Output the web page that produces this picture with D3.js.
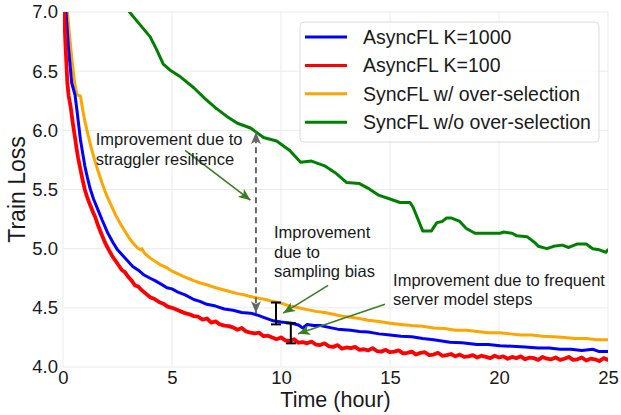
<!DOCTYPE html>
<meta charset="utf-8">
<style>
body { margin: 0; background: #fff; }
text { font-family: "Liberation Sans", Arial, sans-serif; fill: #1a1a1a; }
.grid line { stroke: #ebebeb; stroke-width: 1; }
.series { fill: none; stroke-linejoin: round; stroke-linecap: round; }
.note { font-size: 16.5px; }
</style>
<svg width="621" height="415"></svg>
<script src="https://d3js.org/d3.v7.min.js"></script>
<script>

// values: [hour, train loss]
var asyncK1000 = [[0.14,7.0],[0.25,6.7],[0.4,6.40],[0.55,6.30],[0.64,6.17],[0.8,5.92],[1.0,5.70],[1.12,5.60],[1.24,5.51],[1.4,5.42],[1.6,5.33],[1.8,5.24],[2.06,5.13],[2.3,5.05],[2.5,4.99],[2.7,4.95],[2.95,4.90],[3.2,4.85],[3.44,4.82],[3.7,4.78],[4.0,4.75],[4.22,4.73],[4.5,4.70],[4.77,4.67],[5.0,4.66],[5.3,4.63],[5.6,4.61],[6.0,4.57],[6.28,4.555],[6.6,4.53],[7.0,4.515],[7.4,4.49],[7.8,4.48],[8.2,4.46],[8.6,4.455],[8.9,4.44],[9.2,4.42],[9.65,4.39],[10.0,4.38],[10.5,4.37],[10.8,4.355],[11.0,4.33],[11.2,4.36],[11.5,4.35],[11.8,4.35],[12.2,4.335],[12.6,4.32],[13.2,4.31],[13.6,4.30],[14.0,4.295],[14.5,4.28],[15.0,4.27],[15.5,4.26],[16.0,4.255],[16.5,4.24],[17.0,4.23],[17.75,4.21],[18.3,4.205],[19.0,4.19],[19.5,4.19],[20.05,4.18],[20.6,4.175],[21.2,4.17],[21.8,4.16],[22.3,4.16],[22.8,4.15],[23.3,4.15],[23.8,4.14],[24.3,4.15],[24.6,4.13],[25.0,4.13]];

var asyncK100 = [[0.05,7.0],[0.12,6.70],[0.2,6.40],[0.26,6.29],[0.35,6.20],[0.45,6.06],[0.55,5.94],[0.62,5.85],[0.69,5.77],[0.8,5.67],[0.9,5.58],[1.0,5.50],[1.1,5.44],[1.2,5.39],[1.35,5.32],[1.47,5.27],[1.6,5.20],[1.75,5.13],[1.93,5.05],[2.1,4.99],[2.25,4.94],[2.4,4.90],[2.55,4.86],[2.7,4.82],[2.85,4.80],[3.0,4.76],[3.15,4.73],[3.3,4.69],[3.45,4.68],[3.6,4.65],[3.8,4.62],[4.0,4.59],[4.2,4.575],[4.4,4.55],[4.6,4.535],[4.8,4.51],[5.0,4.50],[5.2,4.485],[5.4,4.47],[5.6,4.455],[5.8,4.445],[6.0,4.43],[6.2,4.425],[6.4,4.40],[6.6,4.41],[6.8,4.375],[7.0,4.385],[7.2,4.36],[7.4,4.35],[7.6,4.345],[7.8,4.335],[8.0,4.315],[8.2,4.33],[8.4,4.30],[8.6,4.29],[8.8,4.285],[9.0,4.29],[9.2,4.26],[9.4,4.265],[9.6,4.25],[9.8,4.235],[10.0,4.25],[10.2,4.225],[10.4,4.22],[10.6,4.235],[10.8,4.205],[11.0,4.21],[11.2,4.20],[11.4,4.215],[11.6,4.19],[11.8,4.185],[12.0,4.20],[12.2,4.175],[12.4,4.17],[12.6,4.185],[12.8,4.155],[13.0,4.165],[13.2,4.16],[13.4,4.17],[13.6,4.145],[13.8,4.15],[14.0,4.14],[14.2,4.16],[14.4,4.135],[14.6,4.13],[14.8,4.145],[15.0,4.125],[15.2,4.13],[15.4,4.14],[15.6,4.115],[15.8,4.12],[16.0,4.13],[16.2,4.105],[16.4,4.12],[16.6,4.125],[16.8,4.10],[17.0,4.105],[17.2,4.12],[17.4,4.095],[17.6,4.10],[17.8,4.11],[18.0,4.09],[18.2,4.105],[18.4,4.085],[18.6,4.09],[18.8,4.10],[19.0,4.08],[19.2,4.095],[19.4,4.085],[19.6,4.075],[19.8,4.095],[20.0,4.08],[20.2,4.09],[20.4,4.07],[20.6,4.085],[20.8,4.075],[21.0,4.09],[21.2,4.065],[21.4,4.08],[21.6,4.075],[21.8,4.06],[22.0,4.085],[22.2,4.07],[22.4,4.065],[22.6,4.08],[22.8,4.06],[23.0,4.07],[23.2,4.085],[23.4,4.06],[23.6,4.065],[23.8,4.08],[24.0,4.055],[24.2,4.07],[24.4,4.065],[24.6,4.05],[24.8,4.075],[25.0,4.06]];

var syncOver = [[0.2,7.0],[0.3,6.80],[0.42,6.58],[0.55,6.38],[0.64,6.30],[0.8,6.29],[0.88,6.20],[1.0,6.08],[1.15,5.96],[1.3,5.85],[1.45,5.75],[1.6,5.66],[1.8,5.55],[2.0,5.45],[2.2,5.37],[2.4,5.29],[2.6,5.22],[2.8,5.16],[3.0,5.10],[3.2,5.05],[3.4,5.01],[3.55,4.99],[3.62,5.00],[3.75,4.96],[4.0,4.92],[4.2,4.895],[4.5,4.86],[4.8,4.835],[5.0,4.81],[5.3,4.785],[5.6,4.76],[5.8,4.745],[6.0,4.73],[6.3,4.71],[6.6,4.695],[7.0,4.67],[7.3,4.655],[7.6,4.64],[8.0,4.62],[8.3,4.61],[8.6,4.595],[9.0,4.58],[9.3,4.57],[9.6,4.555],[10.0,4.54],[10.4,4.515],[10.8,4.50],[11.2,4.485],[11.6,4.47],[12.0,4.46],[12.4,4.445],[12.8,4.43],[13.2,4.42],[13.6,4.41],[14.0,4.395],[14.5,4.385],[15.0,4.37],[15.5,4.36],[16.0,4.35],[16.5,4.345],[17.0,4.33],[17.5,4.325],[18.0,4.31],[18.5,4.31],[19.0,4.30],[19.5,4.29],[20.0,4.29],[20.5,4.28],[21.0,4.27],[21.5,4.27],[22.0,4.26],[22.5,4.255],[23.0,4.25],[23.5,4.24],[24.0,4.24],[24.5,4.23],[25.0,4.23]];

var syncNoOver = [[3.05,7.0],[3.5,6.90],[4.0,6.79],[4.3,6.68],[4.6,6.56],[4.9,6.51],[5.4,6.45],[6.0,6.36],[6.5,6.27],[7.0,6.19],[7.5,6.12],[8.0,6.06],[8.6,6.02],[9.2,5.94],[9.8,5.91],[10.4,5.83],[10.9,5.73],[11.4,5.74],[12.0,5.70],[12.5,5.64],[13.0,5.56],[13.6,5.55],[14.0,5.51],[14.5,5.45],[15.0,5.42],[15.46,5.39],[15.92,5.39],[16.06,5.35],[16.5,5.15],[16.9,5.15],[17.15,5.22],[17.4,5.23],[17.6,5.26],[17.8,5.26],[18.2,5.23],[18.5,5.17],[18.9,5.13],[19.4,5.13],[20.05,5.13],[20.2,5.14],[20.6,5.13],[20.8,5.11],[21.3,5.10],[21.65,5.05],[21.8,5.02],[22.2,5.00],[22.5,5.02],[22.9,5.03],[23.2,5.01],[23.6,5.04],[24.0,5.04],[24.3,5.00],[24.6,4.99],[24.9,4.97],[25.0,4.99]];

var seriesNames = ["AsyncFL K=1000", "AsyncFL K=100", "SyncFL w/ over-selection", "SyncFL w/o over-selection"];
var seriesColors = ["#0000ff", "#ff0000", "#ffa500", "#008000"];
var seriesData = [asyncK1000, asyncK100, syncOver, syncNoOver];
var xTicks = [0, 5, 10, 15, 20, 25];
var yTicks = [4.0, 4.5, 5.0, 5.5, 6.0, 6.5, 7.0];

var svg = d3.select("svg");
var pLeft = 63, pTop = 12, pRight = 608, pBottom = 367;

var x = d3.scaleLinear().domain([0, 25]).range([pLeft, pRight]);
var y = d3.scaleLinear().domain([4, 7]).range([pBottom, pTop]);

svg.append("defs").append("clipPath").attr("id", "plot")
  .append("rect").attr("x", pLeft).attr("y", pTop).attr("width", pRight - pLeft).attr("height", pBottom - pTop);

function marker(id, color) {
  svg.select("defs").append("marker")
    .attr("id", id).attr("markerUnits", "userSpaceOnUse")
    .attr("viewBox", "0 0 12 10").attr("refX", 12).attr("refY", 5)
    .attr("markerWidth", 12).attr("markerHeight", 10).attr("orient", "auto-start-reverse")
    .append("path").attr("d", "M0,0 L12,5 L0,10 L3,5 Z").attr("fill", color);
}
marker("arrowGreen", "#3b7d23");
marker("arrowGray", "#666");

// grid
var grid = svg.append("g").attr("class", "grid");
grid.selectAll(".gx").data(xTicks).enter().append("line")
  .attr("x1", d => x(d)).attr("x2", d => x(d)).attr("y1", pTop).attr("y2", pBottom);
grid.selectAll(".gy").data(yTicks).enter().append("line")
  .attr("y1", d => y(d)).attr("y2", d => y(d)).attr("x1", pLeft).attr("x2", pRight);

// axes (no spines, just labels)
var xAxis = svg.append("g").attr("transform", "translate(0," + pBottom + ")")
  .call(d3.axisBottom(x).tickValues(xTicks).tickFormat(d3.format("d")).tickSize(0).tickPadding(4));
var yAxis = svg.append("g").attr("transform", "translate(" + pLeft + ",0)")
  .call(d3.axisLeft(y).tickValues(yTicks).tickFormat(d3.format(".1f")).tickSize(0).tickPadding(5));
[xAxis, yAxis].forEach(function (a) {
  a.select(".domain").remove();
  a.selectAll("text").style("font-size", "18.5px").style("font-family", "'Liberation Sans', Arial, sans-serif").attr("fill", "#1a1a1a");
});

svg.append("text").attr("x", (pLeft + pRight) / 2).attr("y", 407)
  .attr("text-anchor", "middle").style("font-size", "21.5px").text("Time (hour)");
svg.append("text").attr("transform", "translate(25," + (pTop + pBottom) / 2 + ") rotate(-90)")
  .attr("text-anchor", "middle").style("font-size", "23px").text("Train Loss");

// lines
var line = d3.line().x(d => x(d[0])).y(d => y(d[1]));
var plot = svg.append("g").attr("clip-path", "url(#plot)");
[3, 2, 0, 1].forEach(function (i) {
  plot.append("path").attr("class", "series")
    .attr("d", line(seriesData[i]))
    .attr("stroke", seriesColors[i])
    .attr("stroke-width", i == 1 ? 3.8 : 3);
});

// annotations
svg.append("line")
  .attr("x1", x(8.85)).attr("x2", x(8.85)).attr("y1", y(4.455)).attr("y2", y(5.985))
  .attr("stroke", "#666").attr("stroke-width", 2).attr("stroke-dasharray", "6,4")
  .attr("marker-start", "url(#arrowGray)").attr("marker-end", "url(#arrowGray)");

function ibeam(xv, y0, y1) {
  var g = svg.append("g").attr("stroke", "#000").attr("stroke-width", 2);
  g.append("line").attr("x1", x(xv)).attr("x2", x(xv)).attr("y1", y(y0)).attr("y2", y(y1));
  [y0, y1].forEach(function (v) {
    g.append("line").attr("x1", x(xv) - 5).attr("x2", x(xv) + 5).attr("y1", y(v)).attr("y2", y(v));
  });
}
ibeam(9.77, 4.545, 4.36);
ibeam(10.45, 4.37, 4.20);

function arrow(x1, y1, x2, y2) {
  svg.append("line").attr("x1", x(x1)).attr("y1", y(y1)).attr("x2", x(x2)).attr("y2", y(y2))
    .attr("stroke", "#3b7d23").attr("stroke-width", 1.6).attr("marker-end", "url(#arrowGreen)");
}
arrow(5.6, 5.83, 8.6, 5.41);
arrow(12.16, 4.69, 10.1, 4.455);
arrow(14.77, 4.53, 10.78, 4.28);

function note(xv, yv, lines) {
  var t = svg.append("text").attr("class", "note").attr("x", x(xv)).attr("y", yv);
  lines.forEach(function (s, i) {
    t.append("tspan").attr("x", x(xv)).attr("dy", i ? 19.5 : 0).text(s);
  });
}
note(1.5, 145, ["Improvement due to", "straggler resilience"]);
note(9.68, 238, ["Improvement", "due to", "sampling bias"]);
note(15.14, 285.5, ["Improvement due to frequent", "server model steps"]);

// legend
var legend = svg.append("g");
legend.append("rect").attr("x", 300).attr("y", 22).attr("width", 299).attr("height", 120)
  .attr("rx", 4).attr("fill", "#fff").attr("fill-opacity", 0.8).attr("stroke", "#dcdcdc");
seriesNames.forEach(function (name, i) {
  var cy = 37 + i * 28.4;
  legend.append("line").attr("x1", 305).attr("x2", 347).attr("y1", cy).attr("y2", cy)
    .attr("stroke", seriesColors[i]).attr("stroke-width", 3);
  legend.append("text").attr("x", 363).attr("y", cy + 7).style("font-size", "19.5px").text(name);
});

</script>
